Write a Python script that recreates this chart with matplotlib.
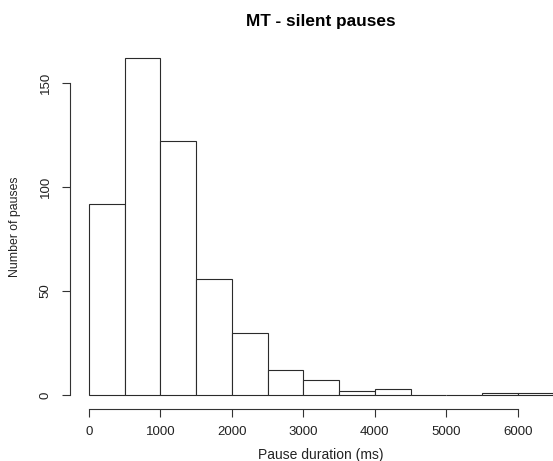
import numpy as np
import matplotlib
matplotlib.use("Agg")
import matplotlib.pyplot as plt

# Histogram of silent pause durations (bin width 500 ms)
bin_edges = [0, 500, 1000, 1500, 2000, 2500, 3000, 3500, 4000, 4500, 5000, 5500, 6000, 6500]
counts = [92, 162, 122, 56, 30, 12, 7, 2, 3, 0, 0, 1, 1]
x_ticks = [0, 1000, 2000, 3000, 4000, 5000, 6000]
y_ticks = [0, 50, 100, 150]

plt.rcParams['font.family'] = ['Liberation Sans', 'DejaVu Sans']

W, H = 553, 461
fig = plt.figure(figsize=(W / 100, H / 100), dpi=100)

# plot region in pixels (R-style, extends past the right edge)
left_px, right_px = 70.4, 572.0
top_px, bottom_px = 44.6, 408.5
ax = fig.add_axes([left_px / W, 1 - bottom_px / H,
                   (right_px - left_px) / W, (bottom_px - top_px) / H])

edges = np.array(bin_edges)
widths = np.diff(edges)
ax.bar(edges[:-1], counts, width=widths, align='edge',
       facecolor='white', edgecolor='#2b2b2b', linewidth=0.8)

xmax = edges[-1]
ymax = max(counts)
ax.set_xlim(-0.04 * xmax, xmax * 1.04)
ax.set_ylim(-0.04 * ymax, ymax * 1.04)

for s in ['top', 'right']:
    ax.spines[s].set_visible(False)
ax.spines['left'].set_bounds(y_ticks[0], y_ticks[-1])
ax.spines['bottom'].set_bounds(x_ticks[0], x_ticks[-1])
for s in ['left', 'bottom']:
    ax.spines[s].set_color('#333333')
    ax.spines[s].set_linewidth(0.8)

ax.set_xticks(x_ticks)
ax.set_yticks(y_ticks)
ax.set_xticklabels([str(v) for v in x_ticks])
ax.set_yticklabels([str(v) for v in y_ticks])
ax.tick_params(axis='both', direction='out', length=5.5, width=0.8,
               color='#333333', labelsize=9.5, labelcolor='#222222')
ax.tick_params(axis='x', pad=7)
ax.tick_params(axis='y', pad=8)
for lab in ax.get_yticklabels():
    lab.set_rotation(90)
    lab.set_va('center')
    lab.set_ha('right')

ax.set_title('MT - silent pauses', fontsize=12.4, fontweight='bold', pad=13.5)
ax.set_xlabel('Pause duration (ms)', fontsize=10, color='#222222')
ax.set_ylabel('Number of pauses', fontsize=8.8, color='#222222')
ax.xaxis.set_label_coords(0.5, (bottom_px - 455) / (bottom_px - top_px))
ax.xaxis.label.set_va('center')
ax.yaxis.set_label_coords((15 - left_px) / (right_px - left_px), 0.5)
ax.yaxis.label.set_va('center')

fig.savefig('out.png', dpi=100)
